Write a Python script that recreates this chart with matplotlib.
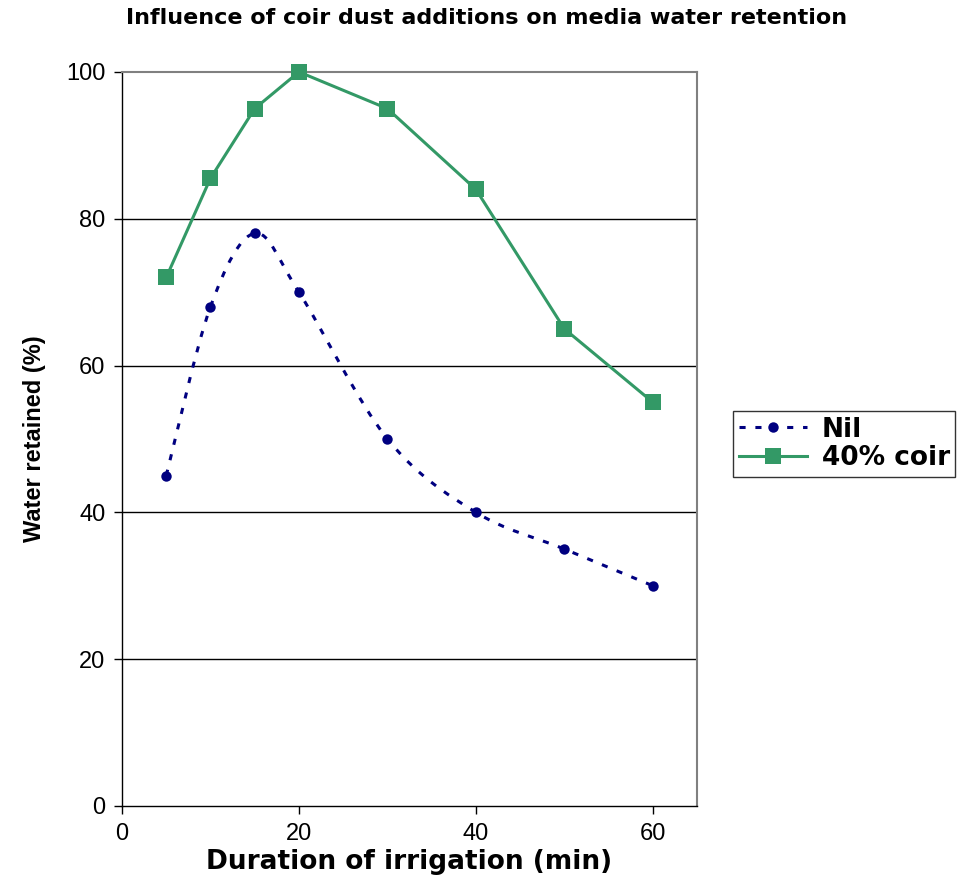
import numpy as np
import matplotlib as mpl
import matplotlib.pyplot as plt
from matplotlib.path import Path
from matplotlib.patches import PathPatch
from matplotlib.lines import Line2D

mpl.rcParams.update({
    "font.family": ["Liberation Sans", "DejaVu Sans"],
    "axes.linewidth": 1.0,
})

# data
duration = [5, 10, 15, 20, 30, 40, 50, 60]
nil = [45, 68, 78, 70, 50, 40, 35, 30]
coir40 = [72, 85.5, 95, 100, 95, 84, 65, 55]

NAVY = "#000080"
GREEN = "#339966"


def smooth_path(x, y, t=1 / 6):
    # Bezier through the points (Excel-style smoothed line)
    x = np.asarray(x, float)
    y = np.asarray(y, float)
    verts = [(x[0], y[0])]
    codes = [Path.MOVETO]
    n = len(x)
    for i in range(n - 1):
        x0, y0 = (x[i - 1], y[i - 1]) if i > 0 else (x[i], y[i])
        x3, y3 = (x[i + 2], y[i + 2]) if i + 2 < n else (x[i + 1], y[i + 1])
        c1 = (x[i] + (x[i + 1] - x0) * t, y[i] + (y[i + 1] - y0) * t)
        c2 = (x[i + 1] - (x3 - x[i]) * t, y[i + 1] - (y3 - y[i]) * t)
        verts += [c1, c2, (x[i + 1], y[i + 1])]
        codes += [Path.CURVE4] * 3
    return Path(verts, codes)


fig = plt.figure(figsize=(9.79, 8.77), dpi=100)
ax = fig.add_axes([0.1246, 0.081, 0.5874, 0.837])

ax.set_xlim(0, 65)
ax.set_ylim(0, 100)
ax.set_xticks([0, 20, 40, 60])
ax.set_yticks([0, 20, 40, 60, 80, 100])
for v in [20, 40, 60, 80]:
    ax.axhline(v, color="black", lw=1.0, zorder=1)

nil_style = (0, (2.0, 3.2))
patch = PathPatch(smooth_path(duration, nil), fill=False, edgecolor=NAVY,
                  lw=2.2, linestyle=nil_style, zorder=3)
ax.add_patch(patch)
ax.plot(duration, nil, linestyle="none", marker="o", ms=7.5, color=NAVY,
        markeredgewidth=0, zorder=4)

ax.plot(duration, coir40, color=GREEN, lw=2.2, marker="s", ms=12,
        markeredgewidth=0, zorder=5, clip_on=False)

for s in ["top", "right"]:
    ax.spines[s].set_color("#808080")
    ax.spines[s].set_linewidth(1.5)
ax.spines["left"].set_color("black")
ax.spines["bottom"].set_color("black")

ax.tick_params(axis="both", direction="out", length=6, width=1, labelsize=17,
               colors="black")
ax.tick_params(axis="x", pad=6)
ax.tick_params(axis="y", pad=6)

ax.set_xlabel("Duration of irrigation (min)", fontsize=19, fontweight="bold",
              family=["DejaVu Sans"], labelpad=3)
ax.set_ylabel("Water retained (%)", fontsize=17, fontweight="bold",
              family=["Liberation Sans"], labelpad=14)

fig.text(0.497, 0.979, "Influence of coir dust additions on media water retention",
         ha="center", va="center", fontsize=16, fontweight="bold",
         family=["DejaVu Sans"])

handles = [
    Line2D([0], [0], color=NAVY, lw=2.2, linestyle=nil_style, marker="o", ms=7.5,
           markeredgewidth=0),
    Line2D([0], [0], color=GREEN, lw=2.2, marker="s", ms=12, markeredgewidth=0),
]
leg = fig.legend(handles, ["Nil", "40% coir"], loc="upper left",
                 bbox_to_anchor=(0.749, 0.531), borderaxespad=0,
                 frameon=True, fancybox=False, edgecolor="black",
                 prop={"family": "DejaVu Sans", "weight": "bold", "size": 19},
                 handlelength=2.6, handletextpad=0.55, labelspacing=0.1,
                 borderpad=0.2)
leg.get_frame().set_linewidth(1.0)

fig.savefig("out.png", dpi=100)
